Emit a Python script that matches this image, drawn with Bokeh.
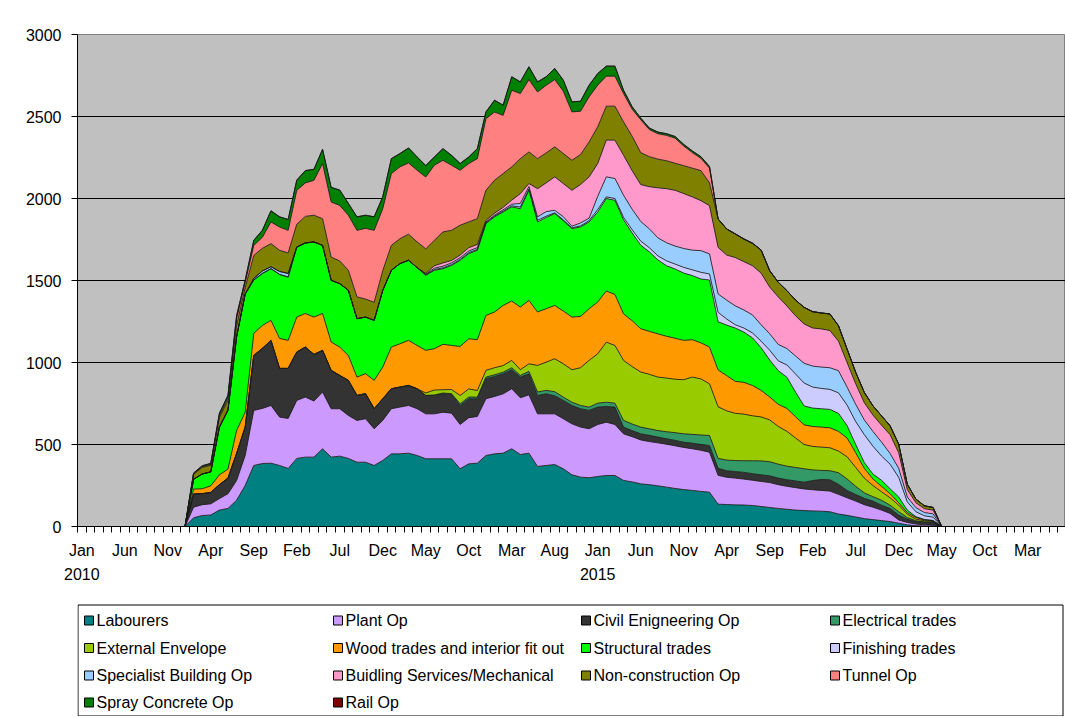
import pandas as pd
from bokeh.plotting import figure
from bokeh.layouts import column
from bokeh.models import ColumnDataSource, Range1d, FixedTicker, LinearAxis, BoxAnnotation
from bokeh.core.properties import value
from bokeh.embed import file_html
from bokeh.resources import INLINE

# ---------------- data ----------------
n_months = 115          # Jan 2010 ... Jul 2019 (category axis)
data_start = 13         # first non-zero month: Feb 2011

tick_positions = list(range(0, 115, 5))
tick_labels = ["Jan", "Jun", "Nov", "Apr", "Sep", "Feb", "Jul", "Dec", "May", "Oct",
               "Mar", "Aug", "Jan", "Jun", "Nov", "Apr", "Sep", "Feb", "Jul", "Dec",
               "May", "Oct", "Mar"]
year_positions = [0, 60]
year_labels = ["2010", "2015"]

series_names = ["Labourers", "Plant Op", "Civil Enigneering Op", "Electrical trades",
                "External Envelope", "Wood trades and interior fit out", "Structural trades",
                "Finishing trades", "Specialist Building Op", "Buidling Services/Mechanical",
                "Non-construction Op", "Tunnel Op", "Spray Concrete Op", "Rail Op"]
colors = ["#008080", "#CC99FF", "#333333", "#339966", "#99CC00", "#FF9900", "#00FF00",
          "#CCCCFF", "#99CCFF", "#FF99CC", "#808000", "#FF8080", "#008000", "#800000"]

# monthly values from Feb 2011 (index 13) to Apr 2018 (index 99)
labourers = [53, 67, 70, 100, 110, 160, 250,
             372, 384, 386, 372, 354, 415, 423, 423, 474, 423,
             429, 415, 392, 392, 372, 403, 443, 443, 447, 433,
             413, 413, 413, 413, 352, 382, 386, 433, 443, 447,
             474, 439, 447, 366, 372, 378, 352, 315, 301, 297,
             305, 311, 311, 281, 272, 260, 255, 248, 240, 232,
             225, 220, 214, 209, 136, 134, 132, 131, 128, 122,
             116, 110, 105, 100, 97, 95, 93, 90, 76, 68,
             58, 48, 42, 36, 30, 20, 10, 5, 3, 2]
plant_op = [65, 66, 68, 70, 90, 120, 183,
            336, 336, 352, 295, 305, 354, 366, 342, 346, 295,
            289, 262, 255, 265, 224, 244, 275, 285, 291, 285,
            274, 274, 284, 278, 270, 281, 285, 346, 350, 362,
            366, 346, 356, 321, 315, 309, 305, 311, 305, 299,
            317, 325, 311, 284, 276, 268, 263, 262, 262, 260,
            257, 254, 251, 244, 176, 166, 163, 158, 154, 153,
            152, 145, 140, 137, 132, 129, 127, 126, 120, 107,
            97, 85, 76, 64, 50, 20, 15, 10, 7, 6]
civil_eng = [80, 67, 70, 85, 95, 165, 173,
             335, 366, 397, 297, 305, 295, 305, 284, 254, 234,
             203, 214, 152, 153, 122, 132, 122, 122, 122, 122,
             112, 112, 112, 114, 116, 116, 108, 122, 122, 122,
             116, 126, 128, 112, 122, 110, 112, 112, 112, 112,
             106, 96, 106, 41, 37, 37, 38, 35, 33, 33,
             32, 34, 35, 41, 43, 40, 40, 41, 40, 40,
             41, 40, 40, 41, 41, 56, 67, 69, 61, 45,
             40, 39, 37, 30, 30, 30, 20, 15, 15, 17]
electrical = [0, 0, 0, 0, 0, 0, 0,
              0, 0, 0, 0, 0, 0, 0, 0, 0, 0,
              0, 0, 0, 0, 0, 0, 0, 0, 0, 0,
              0, 3, 5, 5, 10, 10, 10, 10, 10, 10,
              12, 10, 15, 21, 21, 25, 20, 20, 20, 20,
              24, 26, 24, 41, 40, 41, 40, 40, 43, 47,
              51, 54, 58, 61, 60, 65, 67, 71, 79, 85,
              86, 85, 83, 82, 82, 65, 55, 55, 71, 70,
              50, 33, 27, 30, 20, 20, 10, 5, 3, 2]
external_env = [0, 0, 0, 0, 0, 0, 0,
                0, 0, 0, 0, 0, 0, 0, 0, 0, 0,
                0, 0, 0, 0, 0, 0, 0, 0, 0, 0,
                15, 30, 20, 25, 51, 50, 40, 41, 43, 40,
                45, 35, 46, 162, 172, 201, 203, 198, 230, 285,
                301, 366, 352, 366, 350, 336, 332, 326, 327, 326,
                330, 349, 342, 315, 315, 300, 288, 284, 274, 268,
                255, 230, 212, 180, 148, 143, 142, 140, 132, 135,
                115, 90, 68, 52, 45, 40, 20, 10, 7, 5]
wood_trades = [30, 30, 40, 60, 55, 140, 91,
               135, 140, 122, 183, 171, 213, 205, 228, 225, 173,
               173, 152, 112, 122, 173, 193, 254, 264, 275, 264,
               260, 252, 277, 269, 299, 306, 310, 335, 340, 367,
               362, 382, 387, 326, 326, 325, 322, 321, 313, 315,
               316, 312, 311, 284, 280, 264, 262, 264, 255, 250,
               240, 228, 220, 224, 225, 215, 195, 194, 185, 162,
               140, 135, 140, 130, 120, 122, 122, 122, 120, 115,
               90, 60, 40, 33, 25, 15, 10, 10, 5, 3]
structural = [60, 90, 85, 290, 360, 570, 720,
              325, 317, 315, 390, 386, 427, 430, 458, 415, 376,
              387, 397, 356, 345, 366, 468, 468, 489, 488, 474,
              458, 478, 461, 488, 525, 519, 545, 560, 580, 570,
              574, 600, 671, 549, 556, 560, 550, 539, 546, 529,
              549, 564, 574, 573, 535, 509, 485, 450, 430, 422,
              410, 391, 389, 409, 293, 308, 325, 306, 290, 260,
              225, 205, 190, 150, 115, 112, 112, 112, 110, 75,
              50, 35, 30, 37, 30, 35, 15, 5, 3, 2]
finishing = [0, 0, 0, 0, 0, 0, 0,
             0, 0, 0, 0, 0, 0, 0, 0, 0, 0,
             0, 0, 0, 0, 0, 0, 0, 0, 0, 0,
             3, 5, 5, 5, 6, 6, 6, 5, 5, 5,
             6, 10, 8, 10, 8, 5, 5, 5, 6, 8,
             15, 10, 11, 15, 20, 25, 25, 25, 30, 30,
             35, 35, 41, 37, 58, 37, 20, 25, 30, 40,
             60, 60, 75, 110, 140, 128, 124, 122, 125, 125,
             140, 170, 170, 148, 150, 120, 50, 30, 22, 20]
specialist = [0, 0, 0, 0, 0, 0, 0,
              10, 15, 12, 18, 22, 0, 0, 0, 0, 0,
              0, 0, 0, 0, 0, 0, 0, 0, 0, 0,
              3, 8, 10, 10, 10, 10, 10, 5, 5, 8,
              10, 22, 15, 21, 28, 15, 20, 10, 18, 15,
              80, 122, 122, 135, 125, 120, 115, 110, 110, 110,
              115, 120, 132, 122, 112, 115, 115, 110, 110, 100,
              100, 100, 100, 110, 120, 128, 130, 132, 135, 110,
              105, 90, 90, 85, 65, 55, 30, 25, 20, 20]
building_services = [0, 0, 0, 0, 0, 0, 0,
                     0, 0, 0, 0, 0, 0, 0, 0, 0, 0,
                     0, 0, 0, 0, 0, 0, 0, 0, 0, 0,
                     5, 15, 20, 15, 16, 20, 20, 10, 12, 15,
                     25, 60, 18, 172, 175, 204, 202, 219, 234, 252,
                     200, 224, 234, 244, 235, 225, 257, 305, 330, 340,
                     335, 325, 305, 294, 284, 275, 295, 295, 300, 315,
                     285, 290, 260, 245, 240, 232, 233, 227, 180, 150,
                     125, 105, 100, 103, 115, 95, 45, 30, 23, 23]
non_construction = [30, 40, 40, 60, 60, 70, 40,
                    140, 138, 141, 129, 125, 139, 162, 163, 163, 142,
                    138, 122, 133, 110, 110, 120, 152, 152, 159, 157,
                    150, 155, 189, 184, 182, 157, 157, 183, 201, 206,
                    203, 213, 193, 183, 183, 183, 183, 183, 183, 213,
                    224, 207, 207, 203, 210, 195, 183, 175, 170, 165,
                    170, 175, 183, 139, 173, 159, 144, 138, 137, 141,
                    100, 89, 93, 96, 101, 100, 97, 101, 94, 82,
                    70, 63, 56, 57, 54, 52, 33, 22, 18, 16]
tunnel_op = [5, 5, 5, 10, 15, 40, 30,
             61, 67, 132, 142, 138, 207, 204, 213, 336, 336,
             339, 336, 406, 431, 439, 378, 438, 438, 435, 437,
             438, 458, 437, 397, 335, 356, 366, 437, 416, 355,
             467, 397, 441, 407, 412, 410, 380, 295, 264, 275,
             254, 183, 183, 173, 165, 200, 165, 155, 155, 153,
             120, 95, 75, 90, 0, 0, 0, 0, 0, 0,
             0, 0, 0, 0, 0, 0, 0, 0, 0, 0,
             0, 0, 0, 0, 0, 0, 0, 0, 0, 0]
spray_concrete = [3, 5, 7, 15, 15, 20, 15,
                  31, 43, 68, 62, 66, 62, 75, 67, 87, 89,
                  93, 72, 82, 80, 82, 72, 91, 81, 91, 81,
                  70, 50, 71, 60, 41, 40, 61, 41, 72, 62,
                  82, 71, 78, 61, 52, 68, 67, 61, 61, 71,
                  71, 61, 61, 20, 15, 10, 10, 10, 10, 10,
                  10, 10, 10, 10, 0, 0, 0, 0, 0, 0,
                  0, 0, 0, 0, 0, 0, 0, 0, 0, 0,
                  0, 0, 0, 0, 0, 0, 0, 0, 0, 0]
rail_op = [0] * 87

series_values = [labourers, plant_op, civil_eng, electrical, external_env, wood_trades,
                 structural, finishing, specialist, building_services, non_construction,
                 tunnel_op, spray_concrete, rail_op]

# ---------------- build source ----------------
months = pd.date_range("2010-01-01", periods=n_months, freq="MS")
keys = [f"s{k}" for k in range(len(series_names))]
data = {"x": list(range(n_months))}
for key, vals in zip(keys, series_values):
    full = [0] * data_start + list(vals)
    full += [0] * (n_months - len(full))
    data[key] = full
source = ColumnDataSource(data)

FONT = "Liberation Sans"

p = figure(width=1065, height=598, output_backend="svg", toolbar_location=None,
           x_range=Range1d(-0.5, 114.4), y_range=Range1d(0, 3000),
           min_border_left=77, min_border_top=34, min_border_right=0,
           min_border_bottom=72,
           background_fill_color="#C0C0C0", border_fill_color="white")
p.outline_line_color = "#808080"

# areas
p.varea_stack(stackers=keys, x="x", color=colors, source=source)
# dark outlines of the stacked areas
p.vline_stack(stackers=keys, x="x", source=source, line_color="#1a1a1a", line_width=1,
              line_alpha=0.85)

# grid
p.xgrid.grid_line_color = None
p.ygrid.grid_line_color = "black"
p.ygrid.grid_line_width = 1
p.ygrid.ticker = FixedTicker(ticks=[0, 500, 1000, 1500, 2000, 2500, 3000])

# y axis
yax = p.yaxis[0]
yax.ticker = FixedTicker(ticks=[0, 500, 1000, 1500, 2000, 2500, 3000])
yax.axis_line_color = "black"
yax.major_tick_out = 6
yax.major_tick_in = 0
yax.minor_tick_out = 0
yax.minor_tick_in = 0
yax.major_tick_line_color = "black"
yax.major_label_text_font = FONT
yax.major_label_text_font_size = "16px"
yax.major_label_text_color = "black"
yax.major_label_standoff = 10

# x axis (months)
xax = p.xaxis[0]
xax.ticker = FixedTicker(ticks=tick_positions,
                         minor_ticks=[k - 0.5 for k in range(0, n_months + 1)])
xax.major_label_overrides = {pos: lab for pos, lab in zip(tick_positions, tick_labels)}
xax.axis_line_color = "black"
xax.major_tick_out = 0
xax.major_tick_in = 0
xax.minor_tick_out = 6
xax.minor_tick_in = 0
xax.minor_tick_line_color = "black"
xax.major_label_text_font = FONT
xax.major_label_text_font_size = "16px"
xax.major_label_text_color = "black"
xax.major_label_standoff = 9

# second x axis (years)
yr = LinearAxis(ticker=FixedTicker(ticks=year_positions, minor_ticks=[]),
                major_label_overrides={pos: lab for pos, lab in zip(year_positions, year_labels)},
                axis_line_color=None, major_tick_line_color=None, minor_tick_line_color=None,
                major_label_text_font=FONT, major_label_text_font_size="16px",
                major_label_text_color="black", major_label_standoff=0)
p.add_layout(yr, "below")

# outer chart-area border (top and left edges)
p.add_layout(BoxAnnotation(left=7.5, right=1200, top=10.5, bottom=1200,
                           left_units="canvas", right_units="canvas",
                           top_units="canvas", bottom_units="canvas",
                           fill_color=None, fill_alpha=0,
                           line_color="#404040", line_width=1))

# ---------------- legend panel (page pixel coordinates) ----------------
lg = figure(width=1065, height=118, output_backend="svg", toolbar_location=None,
            x_range=Range1d(77, 1065), y_range=Range1d(716, 598),
            min_border_left=77, min_border_right=0, min_border_top=0, min_border_bottom=0,
            background_fill_color="white", border_fill_color="white")
lg.axis.visible = False
lg.grid.grid_line_color = None
lg.outline_line_color = None

col_x = [84, 333, 581, 830]
row_y = [620, 647.5, 675, 702]
lg.quad(left=[77.5], right=[1062.5], top=[604.5], bottom=[715.5], fill_color=None,
        line_color="black", line_width=1)
sw_l, sw_r, sw_t, sw_b, tx, ty = [], [], [], [], [], []
for k in range(len(series_names)):
    cx = col_x[k % 4]
    cy = row_y[k // 4]
    sw_l.append(cx); sw_r.append(cx + 9); sw_t.append(cy - 4.5); sw_b.append(cy + 4.5)
    tx.append(cx + 12); ty.append(cy)
lg.quad(left=sw_l, right=sw_r, top=sw_t, bottom=sw_b, fill_color=colors,
        line_color="black", line_width=1)
lg.text(x=tx, y=ty, text=series_names, text_baseline="middle", text_align="left",
        text_font=value(FONT), text_font_size="16px", text_color="black")

layout = column(p, lg, spacing=0)
open("out.html", "w").write(file_html(layout, INLINE))
